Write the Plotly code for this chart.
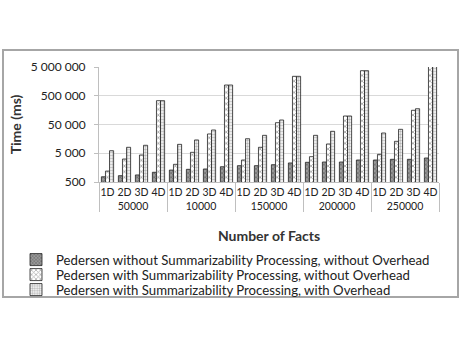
import plotly.graph_objects as go

groups = ["50000", "10000", "150000", "200000", "250000"]
dims = ["1D", "2D", "3D", "4D"]

series_names = [
    "Pedersen without Summarizability Processing, without Overhead",
    "Pedersen with Summarizability Processing, without Overhead",
    "Pedersen with Summarizability Processing, with Overhead",
]

# values in ms, per group (1D..4D)
no_summ_no_ovh = [760, 830, 880, 1090,
                  1300, 1380, 1420, 1700,
                  1850, 1850, 2000, 2300,
                  2420, 2480, 2480, 2910,
                  2910, 3080, 3080, 3420]
summ_no_ovh = [1200, 3150, 4350, 337000,
               2060, 5380, 23400, 1180000,
               2910, 8050, 57800, 2370000,
               3800, 10500, 98800, 3720000,
               4590, 13000, 156000, 5300000]
summ_ovh = [6130, 8050, 9460, 337000,
            10200, 14500, 32200, 1180000,
            16000, 21000, 71700, 2370000,
            21000, 29000, 98800, 3720000,
            25300, 34000, 177000, 5300000]

tick_vals = [500, 5000, 50000, 500000, 5000000]
tick_text = ["500", "5 000", "50 000", "500 000", "5 000 000"]

xg = [g for g in groups for _ in dims]
xd = [d for _ in groups for d in dims]

styles = [
    dict(bg="#9a9a9a", fg="#2a2a2a", shape="x", size=3, solidity=0.35),
    dict(bg="#ffffff", fg="#555555", shape="x", size=4, solidity=0.4),
    dict(bg="#ffffff", fg="#707070", shape=".", size=3, solidity=0.5),
]

L, R, T, B = 99, 24, 67, 166
W, H = 463, 348
pw = W - L - R
ph = H - T - B
def px(x):
    return (x - L) / pw
def py(y):
    return (H - B - y) / ph

legend_ids = ["legend", "legend2", "legend3"]
legend_rows = [260, 275, 290]

fig = go.Figure()
for name, vals, st, lid in zip(series_names, [no_summ_no_ovh, summ_no_ovh, summ_ovh], styles, legend_ids):
    fig.add_trace(go.Bar(
        x=[xg, xd], y=vals, name=name, legend=lid,
        marker=dict(color=st["bg"],
                    line=dict(color="#222222", width=0.8),
                    pattern=dict(shape=st["shape"], fgcolor=st["fg"], bgcolor=st["bg"],
                                 size=st["size"], solidity=st["solidity"], fillmode="overlay")),
    ))

legend_common = dict(xanchor="left", yanchor="middle",
                     font=dict(family="Lato", size=13.2, color="#222222"),
                     bgcolor="rgba(0,0,0,0)", itemwidth=30)
legends = {}
for lid, row in zip(legend_ids, legend_rows):
    legends[lid] = dict(x=px(16), y=py(row), **legend_common)

fig.update_layout(
    width=W, height=H,
    margin=dict(l=L, r=R, t=T, b=B, autoexpand=False),
    paper_bgcolor="white", plot_bgcolor="white",
    barmode="group", bargap=0.28, bargroupgap=0,
    font=dict(family="Lato", size=12, color="#222222"),
    showlegend=True,
    xaxis=dict(type="multicategory", showgrid=False, showline=True, linecolor="#bfbfbf",
               linewidth=1, ticks="outside", tickcolor="rgba(0,0,0,0)", ticklen=20,
               tickangle=0,
               showdividers=True, dividercolor="#bfbfbf", dividerwidth=1,
               tickfont=dict(family="Lato", size=10.5, color="#222222"),
               title=dict(text="<b>Number of Facts</b>", standoff=20,
                          font=dict(family="Lato", size=14, color="#333333"))),
    yaxis=dict(type="log", range=[2.69897, 6.69897], tickvals=tick_vals, ticktext=tick_text,
               showgrid=True, gridcolor="#d9d9d9", gridwidth=1,
               showline=True, linecolor="#bfbfbf", linewidth=1,
               ticks="outside", tickcolor="#bfbfbf", ticklen=4,
               ticklabelstandoff=6,
               tickfont=dict(family="Lato", size=12, color="#222222"),
               title=dict(text="<b>Time (ms)</b>", standoff=5,
                          font=dict(family="Lato", size=14, color="#333333"))),
    **legends,
)

fig.add_shape(type="rect", xref="paper", yref="paper",
              x0=px(3), x1=px(458), y0=py(297), y1=py(50),
              line=dict(color="#a6a6a6", width=2), fillcolor="rgba(0,0,0,0)", layer="below")

fig.write_html("out.html", config={"displayModeBar": False},
               post_script="document.body.style.margin='0';")
